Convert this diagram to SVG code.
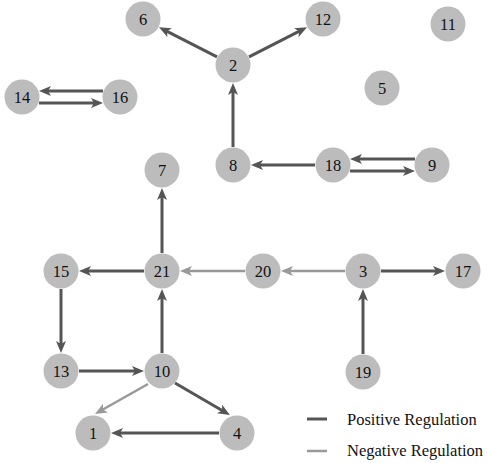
<svg xmlns="http://www.w3.org/2000/svg" width="487" height="463" viewBox="0 0 487 463">
<style>
.node circle{fill:#bcbcbc;}
.node text{font-size:16.5px;fill:#111;text-anchor:middle;dominant-baseline:central;}
.pos{stroke:#555;stroke-width:3;fill:none;marker-end:url(#ap);}
.neg{stroke:#999;stroke-width:2.5;fill:none;marker-end:url(#an);}
.leg{font-size:16.5px;fill:#111;}
</style>
<defs>
<marker id="ap" viewBox="0 0 12 10" markerWidth="12" markerHeight="10" markerUnits="userSpaceOnUse" refX="4" refY="5" orient="auto"><path d="M0,0 L12,5 L0,10 L3,5 z" fill="#555"/></marker>
<marker id="an" viewBox="0 0 12 10" markerWidth="12" markerHeight="10" markerUnits="userSpaceOnUse" refX="4" refY="5" orient="auto"><path d="M0,0 L12,5 L0,10 L3,5 z" fill="#999"/></marker>
</defs>
<g id="connectors">
<line class="pos" x1="217" y1="56.8" x2="166.1" y2="30.8"/>
<line class="pos" x1="249" y1="56.8" x2="299.9" y2="30.8"/>
<line class="pos" x1="233" y1="147" x2="233" y2="91"/>
<line class="pos" x1="315" y1="165" x2="259" y2="165"/>
<line class="pos" x1="415" y1="159" x2="358" y2="159"/>
<line class="pos" x1="350" y1="171" x2="407" y2="171"/>
<line class="pos" x1="103" y1="91" x2="47" y2="91"/>
<line class="pos" x1="39" y1="103" x2="95" y2="103"/>
<line class="pos" x1="162" y1="253" x2="162" y2="196"/>
<line class="pos" x1="144" y1="271" x2="87" y2="271"/>
<line class="neg" x1="245" y1="271" x2="188" y2="271"/>
<line class="neg" x1="345" y1="271" x2="289" y2="271"/>
<line class="pos" x1="381" y1="271" x2="437" y2="271"/>
<line class="pos" x1="363" y1="354" x2="363" y2="297"/>
<line class="pos" x1="61" y1="289" x2="61" y2="345"/>
<line class="pos" x1="79" y1="371" x2="136" y2="371"/>
<line class="pos" x1="162" y1="353" x2="162" y2="297"/>
<line class="neg" x1="148" y1="384" x2="102" y2="410"/>
<line class="pos" x1="175" y1="383" x2="223" y2="411"/>
<line class="pos" x1="219" y1="433" x2="119" y2="433"/>
</g>
<g font-family="'Liberation Serif', 'Times New Roman', 'DejaVu Serif', serif">
<g id="n1" class="node"><circle cx="93" cy="433" r="17.5"/><text x="93" y="433">1</text></g>
<g id="n2" class="node"><circle cx="233" cy="65" r="17.5"/><text x="233" y="65">2</text></g>
<g id="n3" class="node"><circle cx="363" cy="271" r="17.5"/><text x="363" y="271">3</text></g>
<g id="n4" class="node"><circle cx="237" cy="433" r="17.5"/><text x="237" y="433">4</text></g>
<g id="n5" class="node"><circle cx="382" cy="88" r="17.5"/><text x="382" y="88">5</text></g>
<g id="n6" class="node"><circle cx="143" cy="19" r="17.5"/><text x="143" y="19">6</text></g>
<g id="n7" class="node"><circle cx="162" cy="170" r="17.5"/><text x="162" y="170">7</text></g>
<g id="n8" class="node"><circle cx="233" cy="165" r="17.5"/><text x="233" y="165">8</text></g>
<g id="n9" class="node"><circle cx="432" cy="165" r="17.5"/><text x="432" y="165">9</text></g>
<g id="n10" class="node"><circle cx="162" cy="371" r="17.5"/><text x="162" y="371">10</text></g>
<g id="n11" class="node"><circle cx="448" cy="24" r="17.5"/><text x="448" y="24">11</text></g>
<g id="n12" class="node"><circle cx="323" cy="19" r="17.5"/><text x="323" y="19">12</text></g>
<g id="n13" class="node"><circle cx="61" cy="371" r="17.5"/><text x="61" y="371">13</text></g>
<g id="n14" class="node"><circle cx="22" cy="97" r="17.5"/><text x="22" y="97">14</text></g>
<g id="n15" class="node"><circle cx="61" cy="271" r="17.5"/><text x="61" y="271">15</text></g>
<g id="n16" class="node"><circle cx="120" cy="97" r="17.5"/><text x="120" y="97">16</text></g>
<g id="n17" class="node"><circle cx="463" cy="271" r="17.5"/><text x="463" y="271">17</text></g>
<g id="n18" class="node"><circle cx="333" cy="165" r="17.5"/><text x="333" y="165">18</text></g>
<g id="n19" class="node"><circle cx="363" cy="372" r="17.5"/><text x="363" y="372">19</text></g>
<g id="n20" class="node"><circle cx="263" cy="271" r="17.5"/><text x="263" y="271">20</text></g>
<g id="n21" class="node"><circle cx="162" cy="271" r="17.5"/><text x="162" y="271">21</text></g>
<g id="legend">
<line x1="307" y1="419" x2="327" y2="419" stroke="#555" stroke-width="3"/>
<line x1="307" y1="451" x2="327" y2="451" stroke="#999" stroke-width="2.5"/>
<text class="leg" x="347" y="425">Positive Regulation</text>
<text class="leg" x="347" y="456">Negative Regulation</text>
</g>
</g>
</svg>
